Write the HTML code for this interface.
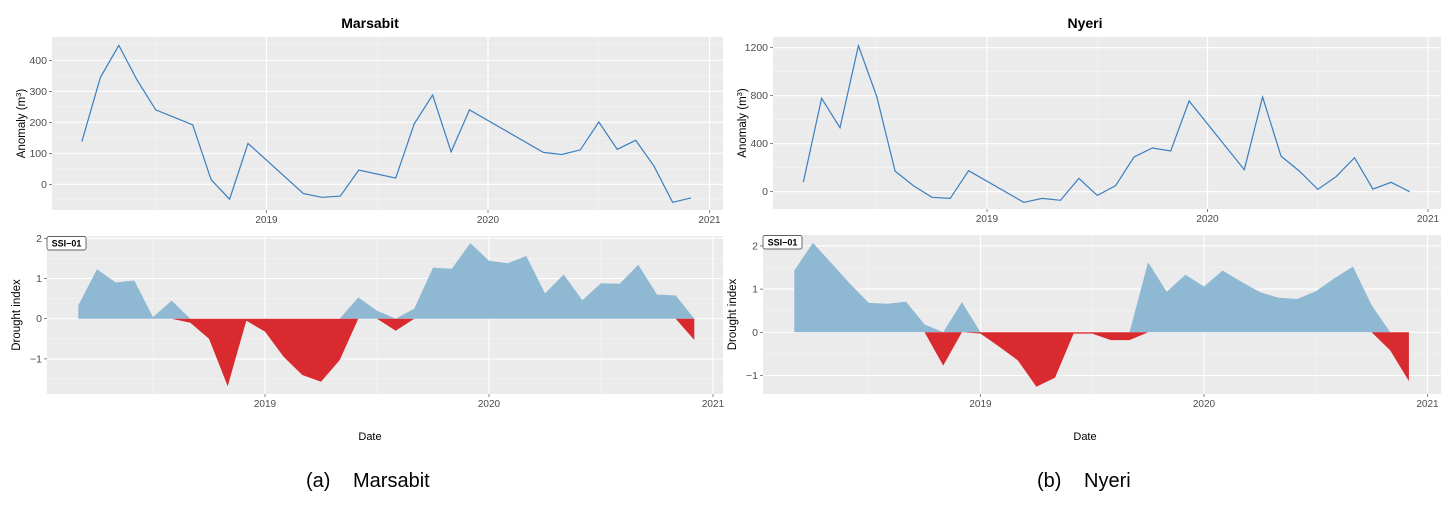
<!DOCTYPE html>
<html><head><meta charset="utf-8"><style>
html,body{margin:0;padding:0;background:#fff;}
svg{display:block;font-family:"Liberation Sans",sans-serif;}
</style></head><body>
<svg id="fig" width="1456" height="508" viewBox="0 0 1456 508" xmlns="http://www.w3.org/2000/svg">
<text x="370" y="28" text-anchor="middle" font-size="14" font-weight="bold">Marsabit</text>
<text x="1085" y="28" text-anchor="middle" font-size="14" font-weight="bold">Nyeri</text>
<text x="370" y="440" text-anchor="middle" font-size="11">Date</text>
<text x="1085" y="440" text-anchor="middle" font-size="11">Date</text>
<text x="306" y="487" font-size="20">(a)</text>
<text x="353" y="487" font-size="20">Marsabit</text>
<text x="1037" y="487" font-size="20">(b)</text>
<text x="1084" y="487" font-size="20">Nyeri</text>
</svg>
<script>
// ---- data ----
const marsTopDates = ["2018-03","2018-04","2018-05","2018-06","2018-07","2018-09","2018-10","2018-11","2018-12","2019-03","2019-04","2019-05","2019-06","2019-08","2019-09","2019-10","2019-11","2019-12","2020-04","2020-05","2020-06","2020-07","2020-08","2020-09","2020-10","2020-11","2020-12"];
const marsTopValues = [138,345,448,335,240,192,15,-48,132,-30,-42,-38,46,20,195,288,105,240,103,96,111,201,113,142,58,-58,-44];
const marsSsiStart = "2018-03";
const marsSsiValues = [0.33,1.23,0.9,0.95,0.04,0.45,-0.1,-0.5,-1.68,-0.05,-0.32,-0.95,-1.4,-1.57,-1.03,0.53,0.2,-0.3,0.25,1.27,1.24,1.88,1.44,1.38,1.56,0.63,1.1,0.46,0.88,0.87,1.34,0.6,0.58,-0.53];
const nyeriTopDates = ["2018-03","2018-04","2018-05","2018-06","2018-07","2018-08","2018-09","2018-10","2018-11","2018-12","2019-03","2019-04","2019-05","2019-06","2019-07","2019-08","2019-09","2019-10","2019-11","2019-12","2020-03","2020-04","2020-05","2020-06","2020-07","2020-08","2020-09","2020-10","2020-11","2020-12"];
const nyeriTopValues = [78,778,533,1217,792,172,50,-47,-56,175,-89,-56,-72,111,-31,50,289,364,339,756,183,789,297,172,19,125,283,22,78,0];
const nyeriSsiStart = "2018-03";
const nyeriSsiValues = [1.43,2.07,1.6,1.12,0.68,0.66,0.71,0.18,-0.77,0.7,-0.03,-0.33,-0.65,-1.26,-1.05,-0.03,-0.03,-0.18,-0.18,1.62,0.94,1.33,1.06,1.43,1.17,0.93,0.8,0.77,0.95,1.25,1.52,0.63,-0.42,-1.13];
const yearTicks = ["2019","2020","2021"];
const anomTicksA = [0,100,200,300,400];
const anomTicksB = [0,400,800,1200];
const ssiTicks = [-1,0,1,2];

const NS="http://www.w3.org/2000/svg";
const svg=document.getElementById('fig');
function mk(tag,attrs,parent){const e=document.createElementNS(NS,tag);for(const k in attrs)e.setAttribute(k,attrs[k]);(parent||svg).appendChild(e);return e;}
function dateNum(s){const p=s.split('-');return +p[0]+(+p[1]-1)/12;}
function addMonths(s,i){const p=s.split('-');const m=(+p[1]-1)+i;return (+p[0]+Math.floor(m/12))+'-'+String(m%12+1).padStart(2,'0');}

function panel(cfg){
  const g=mk('g',{});
  
  
  const xs=t=>cfg.x2019+(t-2019)*(cfg.x2020-cfg.x2019);
  const ys=v=>cfg.yZero-v*cfg.yUnit;
  const bg=mk('rect',{x:cfg.x0,y:cfg.y0,width:cfg.x1-cfg.x0,height:cfg.y1-cfg.y0,fill:'#ebebeb'},g);
  
  
  const step=cfg.yt[1]-cfg.yt[0];
  for(let v=cfg.yt[0]-step/2;v<=cfg.yt[cfg.yt.length-1]+step;v+=step){const y=ys(v);if(y>cfg.y0&&y<cfg.y1){const l=mk('line',{x1:cfg.x0,x2:cfg.x1,y1:y,y2:y,stroke:'#f5f5f5','stroke-width':0.6},g);}}
  [2018.5,2019.5,2020.5].forEach(t=>{const x=xs(t);if(x>cfg.x0&&x<cfg.x1){const l=mk('line',{x1:x,x2:x,y1:cfg.y0,y2:cfg.y1,stroke:'#f5f5f5','stroke-width':0.6},g);}});
  cfg.yt.forEach(v=>{const y=ys(v);
    const l=mk('line',{x1:cfg.x0,x2:cfg.x1,y1:y,y2:y,stroke:'#fff','stroke-width':1.1},g);
    
    mk('line',{x1:cfg.x0-3,x2:cfg.x0,y1:y,y2:y,stroke:'#333','stroke-width':0.6},g);
    const t=mk('text',{x:cfg.x0-5,y:y+3.5,'text-anchor':'end','font-size':10.5,fill:'#4d4d4d'},g);
    t.textContent=String(v).replace('-','\u2212');});
  yearTicks.forEach(s=>{const x=xs(+s);
    const l=mk('line',{x1:x,x2:x,y1:cfg.y0,y2:cfg.y1,stroke:'#fff','stroke-width':1.1},g);
    
    mk('line',{x1:x,x2:x,y1:cfg.y1,y2:cfg.y1+3,stroke:'#333','stroke-width':0.6},g);
    const t=mk('text',{x:x,y:cfg.y1+13,'text-anchor':'middle','font-size':10,fill:'#4d4d4d'},g);
    t.textContent=s;});
  const yc=(cfg.y0+cfg.y1)/2;
  const at=mk('text',{x:0,y:0,'text-anchor':'middle','font-size':11.5,transform:`translate(${cfg.x0-27},${yc}) rotate(-90)`},g);
  
  if(cfg.ytitleSup){at.textContent='Anomaly (m';const ts=document.createElementNS(NS,'tspan');ts.textContent='3';ts.setAttribute('font-size','7.5');ts.setAttribute('dy','-4');at.appendChild(ts);const t2=document.createElementNS(NS,'tspan');t2.setAttribute('dy','4');t2.textContent=')';at.appendChild(t2);}
  else at.textContent=cfg.ytitle;
  if(cfg.lineDates){
    const d=cfg.lineDates.map((s,i)=>(i?'L':'M')+xs(dateNum(s)).toFixed(1)+','+ys(cfg.lineValues[i]).toFixed(1)).join('');
    const p=mk('path',{d:d,fill:'none',stroke:'#3a7fc0','stroke-width':1.2},g);
    
  }
  if(cfg.ssiValues){
    const pts=cfg.ssiValues.map((v,i)=>[xs(dateNum(addMonths(cfg.ssiStart,i))),v]);
    const mkArea=(fn,col,name)=>{let d='M'+pts[0][0].toFixed(1)+','+ys(0).toFixed(1);
      pts.forEach(p=>{d+='L'+p[0].toFixed(1)+','+ys(fn(p[1])).toFixed(1);});
      d+='L'+pts[pts.length-1][0].toFixed(1)+','+ys(0).toFixed(1)+'Z';
      const a=mk('path',{d:d,fill:col},g);};
    mkArea(v=>Math.max(v,0),'#8fb9d3','positive-area');
    mkArea(v=>Math.min(v,0),'#d92b2f','negative-area');
    const lb=mk('g',{},g);
    mk('rect',{x:cfg.x0,y:cfg.y0+0.5,width:39,height:13.5,rx:2,fill:'#fff',stroke:'#333','stroke-width':0.7},lb);
    const t=mk('text',{x:cfg.x0+19.5,y:cfg.y0+10.5,'text-anchor':'middle','font-size':9,'font-weight':'bold'},lb);t.textContent='SSI\u221201';
  }
}
panel({name:'marsabit-anomaly-panel',x0:52,x1:723,y0:37,y1:210,x2019:266.5,x2020:488,yZero:184.3,yUnit:0.31,yt:anomTicksA,ytitleSup:true,lineDates:marsTopDates,lineValues:marsTopValues});
panel({name:'marsabit-ssi-panel',x0:47,x1:723,y0:236,y1:394,x2019:265,x2020:489,yZero:318.7,yUnit:40.2,yt:ssiTicks,ytitle:'Drought index',ssiStart:marsSsiStart,ssiValues:marsSsiValues});
panel({name:'nyeri-anomaly-panel',x0:773,x1:1441,y0:37,y1:209,x2019:987,x2020:1207.5,yZero:191.7,yUnit:0.12,yt:anomTicksB,ytitleSup:true,lineDates:nyeriTopDates,lineValues:nyeriTopValues});
panel({name:'nyeri-ssi-panel',x0:763,x1:1441,y0:235,y1:394,x2019:980.5,x2020:1204,yZero:332.3,yUnit:43.2,yt:ssiTicks,ytitle:'Drought index',ssiStart:nyeriSsiStart,ssiValues:nyeriSsiValues});
</script>
</body></html>
